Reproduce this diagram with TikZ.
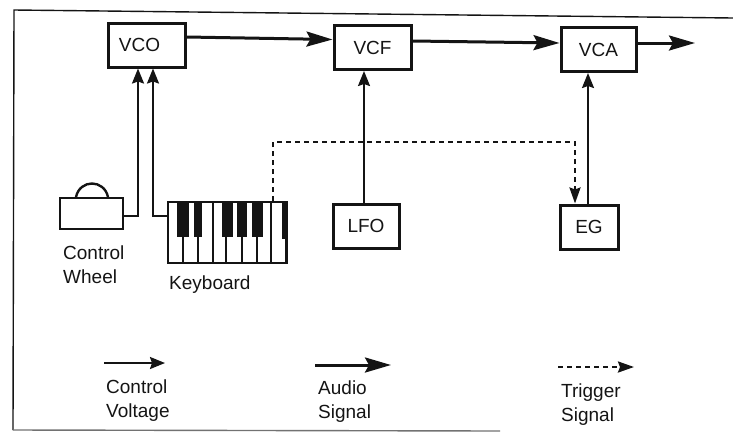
\documentclass[tikz,border=0pt]{standalone}
\usepackage{fontspec}
\setmainfont{Liberation Sans}
\usetikzlibrary{arrows.meta}
\definecolor{ink}{HTML}{141414}
\tikzset{
  blockbox/.style={draw=ink,line width=3pt,minimum width=#1,minimum height=44pt,inner sep=0pt,text=ink,font=\fontsize{19}{22}\selectfont},
  textlabel/.style={align=left,anchor=north west,inner sep=0pt,text=ink,font=\fontsize{19}{24}\selectfont},
  audioarrow/.style={draw=ink,line width=3pt,-{Stealth[length=26pt,width=15pt,inset=4pt]}},
  controlarrow/.style={draw=ink,line width=2pt,-{Stealth[length=15pt,width=12pt,inset=2pt]}},
  triggerarrow/.style={draw=ink,line width=2.4pt,dash pattern=on 5pt off 4pt,-{Stealth[length=16pt,width=11pt,inset=2pt]}},
  keyline/.style={draw=ink,line width=1.5pt},
  blackkey/.style={fill=ink,draw=none},
  frameline/.style={draw=ink,line width=1.4pt}
}
\begin{document}
\begin{tikzpicture}[x=1pt,y=-1pt]
\useasboundingbox (0,0) rectangle (733,432);
% frame
\coordinate (tl) at (14,10);
\coordinate (tr) at (733,18);
\coordinate (bl) at (13,430);
\coordinate (br) at (500,431);
\draw[frameline] (tr) -- (tl) -- (bl);
\draw[draw=ink!60,line width=1.4pt] (bl) -- (br);
% blocks
\node[blockbox=77pt] (VCO) at (146.5,45) {\hspace*{-14pt}VCO};
\node[blockbox=77pt] (VCF) at (372.5,47.5) {VCF};
\node[blockbox=75pt] (VCA) at (598.5,49.5) {VCA};
\node[blockbox=66pt] (LFO) at (366,226) {LFO};
\node[blockbox=58pt] (EG) at (589,227) {EG};
\node[draw=ink,line width=2.6pt,minimum width=63pt,minimum height=31pt,inner sep=0pt] (wheel) at (91.5,213.5) {};
\node[draw=ink,line width=2pt,minimum width=119pt,minimum height=61pt,inner sep=0pt] (keys) at (227.5,232.5) {};
% wheel dome
\coordinate (d1) at (76,197);
\coordinate (d2) at (108,197);
\draw[draw=ink,line width=2.4pt] (d1) .. controls (80,179) and (104,179) .. (d2);
% black keys
\foreach \a/\b/\c in {177/189/237,194/202/237,222/233/237,237/247/237,252/263/237,282/288/239}
  \fill[blackkey] (\a,202) rectangle (\b,\c);
% white key separators
\foreach \x/\t in {183/237,198/237,213/203,226/237,242/237,257/237,271/203,286/239}
  \draw[keyline] (\x,\t) -- (\x,263);
% audio path
\coordinate (out) at (695,43);
\draw[audioarrow] ([yshift=8pt]VCO.east) -- ([yshift=8pt]VCF.west);
\draw[audioarrow] ([yshift=6.5pt]VCF.east) -- ([yshift=6.5pt]VCA.west);
\draw[audioarrow] ([yshift=6.5pt]VCA.east) -- (out);
% control voltages
\coordinate (w1) at (138,216);
\coordinate (k1) at (153,216);
\coordinate (lx) at (364,0);
\coordinate (ex) at (588,0);
\draw[controlarrow] (wheel.east |- w1) -- (w1) -- (w1 |- VCO.south);
\draw[controlarrow] (keys.west |- k1) -- (k1) -- (k1 |- VCO.south);
\draw[controlarrow] (lx |- LFO.north) -- (lx |- VCF.south);
\draw[controlarrow] (ex |- EG.north) -- (ex |- VCA.south);
% trigger
\coordinate (t1) at (273,142);
\coordinate (t2) at (575,142);
\draw[triggerarrow] (t1 |- keys.north) -- (t1) -- (t2) -- (t2 |- EG.north);
% labels
\node[textlabel] (lwheel) at (63,246) {Control\\Wheel};
\node[textlabel] (lkeys) at (169,276) {Keyboard};
% legend
\coordinate (c1) at (104,363);
\coordinate (c2) at (165,363);
\coordinate (a1) at (315,365);
\coordinate (a2) at (391,365);
\coordinate (g1) at (558,367);
\coordinate (g2) at (634,367);
\draw[controlarrow] (c1) -- (c2);
\draw[audioarrow] (a1) -- (a2);
\draw[triggerarrow] (g1) -- (g2);
\node[textlabel] (lc) at (106,380) {Control\\Voltage};
\node[textlabel] (la) at (318,381) {Audio\\Signal};
\node[textlabel] (lt) at (561,384) {Trigger\\Signal};
\end{tikzpicture}
\end{document}
